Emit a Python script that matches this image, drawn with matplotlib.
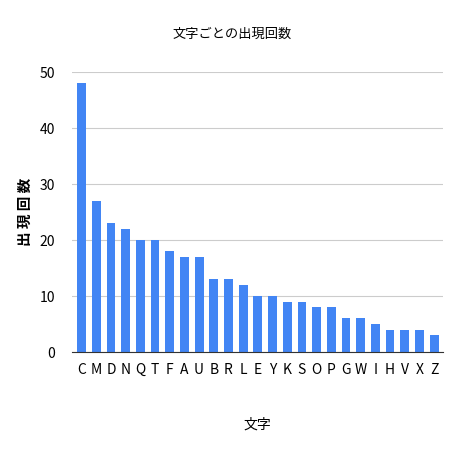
import numpy as np
import matplotlib.pyplot as plt

plt.rcParams['font.family'] = ['Noto Sans CJK JP', 'DejaVu Sans']

letters = ["C", "M", "D", "N", "Q", "T", "F", "A", "U", "B", "R", "L", "E",
           "Y", "K", "S", "O", "P", "G", "W", "I", "H", "V", "X", "Z"]
counts = [48, 27, 23, 22, 20, 20, 18, 17, 17, 13, 13, 12, 10,
          10, 9, 9, 8, 8, 6, 6, 5, 4, 4, 4, 3]
yticks = [0, 10, 20, 30, 40, 50]

fig = plt.figure(figsize=(4.59, 4.59), dpi=100)
ax = fig.add_axes([0.157, 0.233, 0.808, 0.61])

x = np.arange(len(letters))
ax.bar(x, counts, width=0.6, color="#4285f4", zorder=3)

ax.set_xlim(-0.65, len(letters) - 0.4)
ax.set_ylim(0, 50)
ax.set_yticks(yticks)
ax.set_xticks(x)
ax.set_xticklabels(letters, fontsize=10)
ax.tick_params(axis="y", labelsize=10, length=0, pad=12)
ax.tick_params(axis="x", length=0, pad=8)

ax.grid(axis="y", color="#cccccc", linewidth=0.8, zorder=0)
for s in ["top", "right", "left"]:
    ax.spines[s].set_visible(False)
ax.spines["bottom"].set_color("#333333")
ax.spines["bottom"].set_zorder(4)

fig.text(0.505, 0.925, "文字ごとの出現回数", ha="center", va="center", fontsize=9.5)
fig.text(0.055, 0.538, "出 現 回 数", rotation=90, ha="center", va="center",
         fontsize=10.5, fontweight="bold")
fig.text(0.56, 0.075, "文字", ha="center", va="center", fontsize=10)

fig.savefig("out.png", dpi=100)
